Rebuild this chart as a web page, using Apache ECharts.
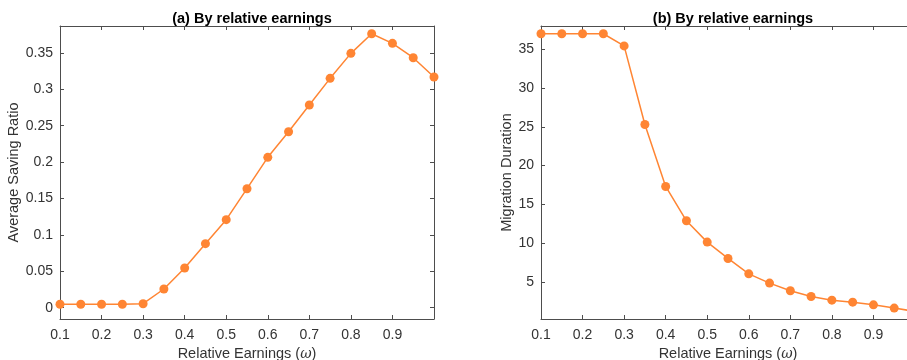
<!DOCTYPE html>
<html>
<head>
<meta charset="utf-8">
<script src="https://cdn.jsdelivr.net/npm/echarts@6/dist/echarts.min.js"></script>
<style>html,body{margin:0;padding:0;background:#fff}#c{width:907px;height:360px}</style>
</head>
<body>
<div id="c"></div>
<script>
const omega = [0.1,0.15,0.2,0.25,0.3,0.35,0.4,0.45,0.5,0.55,0.6,0.65,0.7,0.75,0.8,0.85,0.9,0.95,1.0];
const savingRatio = [0.0047,0.0047,0.0047,0.0047,0.0055,0.0257,0.0545,0.088,0.121,0.1635,0.2066,0.2418,0.2784,0.3151,0.3494,0.3764,0.3632,0.3434,0.317];
const migrationDuration = [37,37,37,37,35.43,25.29,17.30,12.87,10.12,8.01,6.03,4.83,3.84,3.11,2.63,2.37,2.03,1.61,1.18];
const xTicks = [0.1,0.2,0.3,0.4,0.5,0.6,0.7,0.8,0.9];
const xTickLabels = ['0.1','0.2','0.3','0.4','0.5','0.6','0.7','0.8','0.9'];
const yTicksA = [0,0.05,0.1,0.15,0.2,0.25,0.3,0.35];
const yTickLabelsA = ['0','0.05','0.1','0.15','0.2','0.25','0.3','0.35'];
const yTicksB = [5,10,15,20,25,30,35];
const yTickLabelsB = ['5','10','15','20','25','30','35'];
const titles = ['(a) By relative earnings','(b) By relative earnings'];
const xName = 'Relative Earnings ({i|ω})';
const yNames = ['Average Saving Ratio','Migration Duration'];

const FONT = '"Liberation Sans", Arial, sans-serif';
const AX = '#4d4d4d';
const TXT = '#333333';
const ORANGE = '#ff8533';
const FS = 14;

function labelMap(ticks, labels){
  const m = {};
  ticks.forEach((t,i)=>{ m[t.toFixed(4)] = labels[i]; });
  return v => m[Number(v).toFixed(4)] ?? '';
}

function xAxes(gi){
  const base = {
    type:'value', gridIndex:gi, min:0.1, max:1.0,
    splitLine:{show:false},
    axisLine:{show:true, onZero:false, lineStyle:{color:AX, width:1}},
    axisTick:{show:true, inside:true, length:4, customValues:xTicks, lineStyle:{color:AX}},
  };
  return [
    Object.assign({}, base, {
      position:'bottom',
      axisLabel:{show:true, customValues:xTicks, formatter:labelMap(xTicks,xTickLabels), color:TXT, fontFamily:FONT, fontSize:FS, margin:9},
      name:xName, nameLocation:'middle', nameGap:27,
      nameTextStyle:{color:TXT, fontFamily:FONT, fontSize:14.5, rich:{i:{fontStyle:'italic', fontFamily:'"DejaVu Serif", serif', fontSize:14, color:TXT}}}
    }),
    Object.assign({}, base, {position:'top', axisLabel:{show:false}})
  ];
}
function yAxes(gi, min, max, ticks, labels, name, gap){
  const base = {
    type:'value', gridIndex:gi, min:min, max:max,
    splitLine:{show:false},
    axisLine:{show:true, onZero:false, lineStyle:{color:AX, width:1}},
    axisTick:{show:true, inside:true, length:4, customValues:ticks, lineStyle:{color:AX}},
  };
  return [
    Object.assign({}, base, {
      position:'left',
      axisLabel:{show:true, customValues:ticks, formatter:labelMap(ticks,labels), color:TXT, fontFamily:FONT, fontSize:FS, margin:7},
      name:name, nameLocation:'middle', nameGap:gap, nameRotate:90,
      nameTextStyle:{color:TXT, fontFamily:FONT, fontSize:14.5}
    }),
    Object.assign({}, base, {position:'right', axisLabel:{show:false}})
  ];
}

const chart = echarts.init(document.getElementById('c'), null, {renderer:'canvas'});
chart.setOption({
  animation:false,
  backgroundColor:'#fff',
  title:[
    {text:titles[0], left:247, top:6, textAlign:'center', textStyle:{fontFamily:FONT, fontSize:14.5, fontWeight:'bold', color:'#000'}},
    {text:titles[1], left:728, top:6, textAlign:'center', textStyle:{fontFamily:FONT, fontSize:14.5, fontWeight:'bold', color:'#000'}}
  ],
  grid:[
    {left:60, top:26, width:374, height:293, containLabel:false, outerBoundsMode:'none'},
    {left:541, top:26, width:374, height:293, containLabel:false, outerBoundsMode:'none'}
  ],
  xAxis:[...xAxes(0), ...xAxes(1)],
  yAxis:[
    ...yAxes(0, -0.0155, 0.387, yTicksA, yTickLabelsA, yNames[0], 32),
    ...yAxes(1, 0.2, 38, yTicksB, yTickLabelsB, yNames[1], 22)
  ],
  series:[
    {type:'line', xAxisIndex:0, yAxisIndex:0, data:omega.map((x,i)=>[x,savingRatio[i]]),
     symbol:'circle', symbolSize:9, lineStyle:{color:ORANGE, width:1.5}, itemStyle:{color:ORANGE}, clip:false},
    {type:'line', xAxisIndex:2, yAxisIndex:2, data:omega.map((x,i)=>[x,migrationDuration[i]]),
     symbol:'circle', symbolSize:9, lineStyle:{color:ORANGE, width:1.5}, itemStyle:{color:ORANGE}, clip:false}
  ]
});
</script>
</body>
</html>
